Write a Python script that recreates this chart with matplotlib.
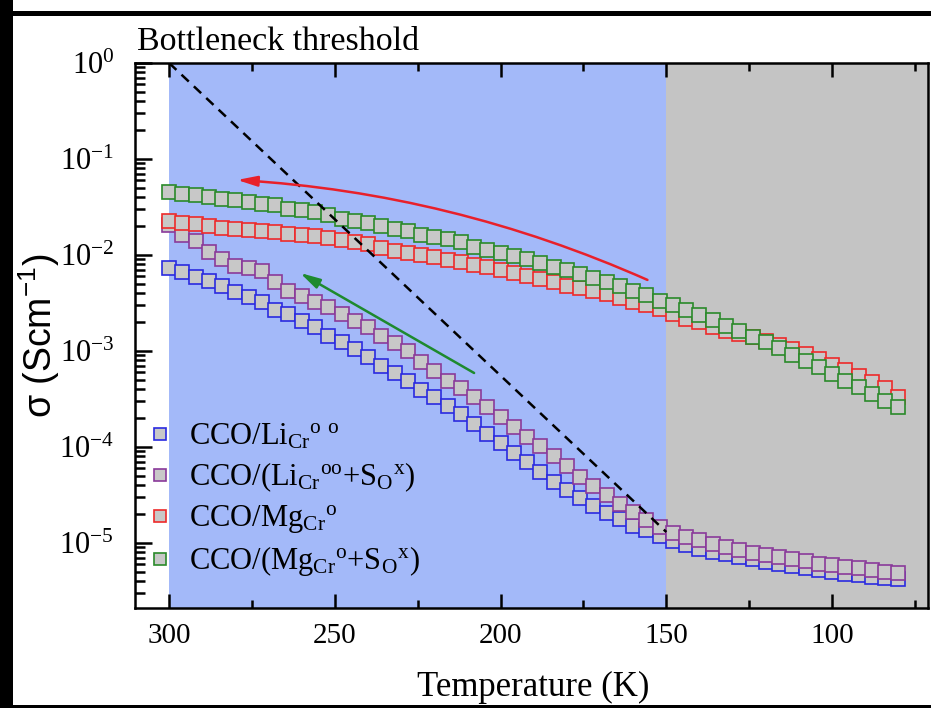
import numpy as np
import matplotlib
matplotlib.use('Agg')
import matplotlib.pyplot as plt
from matplotlib.patches import Rectangle
from matplotlib.ticker import MultipleLocator, LogLocator, NullFormatter

plt.rcParams['font.family'] = 'Liberation Serif'
plt.rcParams['mathtext.default'] = 'regular'

# temperature grid of the measurements (K), 300 -> 80 in 4 K steps
T = np.arange(300, 79, -4)

# log10(sigma / S cm^-1), same order as T
log_li = [-2.133, -2.178, -2.230, -2.272, -2.328, -2.387, -2.439, -2.492, -2.571, -2.613,
          -2.690, -2.753, -2.839, -2.909, -2.978, -3.066, -3.152, -3.233, -3.309, -3.406,
          -3.483, -3.57, -3.66, -3.76, -3.86, -3.96, -4.06, -4.16, -4.26, -4.36,
          -4.45, -4.53, -4.61, -4.69, -4.75, -4.82, -4.87, -4.93, -4.98, -5.02,
          -5.06, -5.09, -5.12, -5.145, -5.17, -5.195, -5.22, -5.24, -5.26, -5.28,
          -5.30, -5.32, -5.335, -5.35, -5.365, -5.38]
log_li_s = [-1.69, -1.795, -1.855, -1.970, -2.039, -2.119, -2.133, -2.168, -2.283, -2.370,
            -2.422, -2.492, -2.544, -2.613, -2.690, -2.753, -2.839, -2.920, -2.996, -3.118,
            -3.205, -3.309, -3.386, -3.483, -3.585, -3.687, -3.789, -3.891, -3.993, -4.095,
            -4.196, -4.311, -4.405, -4.499, -4.593, -4.676, -4.760, -4.833, -4.896, -4.937,
            -4.969, -5.010, -5.042, -5.073, -5.104, -5.125, -5.146, -5.167, -5.188, -5.219,
            -5.230, -5.251, -5.261, -5.282, -5.303, -5.313]
log_mg = [-1.646, -1.667, -1.681, -1.701, -1.715, -1.726, -1.736, -1.751, -1.761, -1.778,
          -1.795, -1.806, -1.820, -1.841, -1.860, -1.889, -1.930, -1.955, -1.980, -2.005,
          -2.025, -2.050, -2.075, -2.105, -2.130, -2.161, -2.189, -2.220, -2.247, -2.283,
          -2.318, -2.346, -2.377, -2.405, -2.443, -2.486, -2.526, -2.565, -2.616, -2.665,
          -2.700, -2.745, -2.787, -2.822, -2.850, -2.891, -2.937, -2.978, -3.030, -3.082,
          -3.142, -3.197, -3.257, -3.319, -3.385, -3.476]
log_mg_s = [-1.343, -1.360, -1.378, -1.395, -1.412, -1.430, -1.447, -1.464, -1.482, -1.517,
            -1.534, -1.552, -1.587, -1.621, -1.646, -1.670, -1.700, -1.725, -1.752, -1.787,
            -1.813, -1.835, -1.868, -1.912, -1.944, -1.980, -2.015, -2.046, -2.085, -2.126,
            -2.161, -2.203, -2.241, -2.283, -2.320, -2.370, -2.415, -2.475, -2.516, -2.568,
            -2.620, -2.672, -2.735, -2.787, -2.850, -2.909, -2.968, -3.038, -3.100, -3.170,
            -3.236, -3.309, -3.379, -3.448, -3.518, -3.580]

labels = [r'CCO/Li$_{Cr}{}^{o\ o}$',
          r'CCO/(Li$_{Cr}{}^{oo}$+S$_{O}{}^{x}$)',
          r'CCO/Mg$_{Cr}{}^{o}$',
          r'CCO/(Mg$_{Cr}{}^{o}$+S$_{O}{}^{x}$)']
colors = ['#2a2ae0', '#8a3a9a', '#ee2a2a', '#2a8a2a']
series = [log_li, log_li_s, log_mg, log_mg_s]

# bottleneck guide line and arrows
guide_T = [300, 150]
guide_sigma = [1.0, 1.3e-5]
red_arrow = ((155.7, 5.5e-3), (279.5, 0.0605))
green_arrow = ((208, 5.9e-4), (260.5, 6.5e-3))

fig = plt.figure(figsize=(9.31, 7.08), dpi=100)
ax = fig.add_axes([0.145, 0.1412, 0.852, 0.7698])

ax.axvspan(300, 150, color='#a3b9f9', lw=0, zorder=0)
ax.axvspan(150, 60, color='#c4c4c4', lw=0, zorder=0)

for ys, c, lab in zip(series, colors, labels):
    assert len(ys) == len(T)
    ax.plot(T, 10 ** np.array(ys), ls='none', marker='s', ms=9.4, mfc='#c8c8c8',
            mec=c, mew=1.2, label=lab, zorder=3)

ax.plot(guide_T, guide_sigma, color='k', ls='--', lw=1.8, dashes=(4, 2.8), zorder=4)

for (tail, head), c in zip([red_arrow, green_arrow], ['#e8202a', '#1e8a2e']):
    rad = 0.09 if c == '#e8202a' else 0.0
    ax.annotate('', xy=head, xytext=tail,
                arrowprops=dict(arrowstyle='-|>,head_length=0.85,head_width=0.22',
                                mutation_scale=14, color=c, lw=1.8,
                                connectionstyle='arc3,rad=%g' % rad,
                                shrinkA=0, shrinkB=0), zorder=5)

ax.set_yscale('log')
ax.set_xlim(310.3, 71)
ax.set_ylim(2.1e-6, 1)

ax.xaxis.set_major_locator(MultipleLocator(50))
ax.xaxis.set_minor_locator(MultipleLocator(25))
ax.yaxis.set_major_locator(LogLocator(base=10, numticks=20))
ax.yaxis.set_minor_locator(LogLocator(base=10, subs=np.arange(2, 10), numticks=20))
ax.yaxis.set_minor_formatter(NullFormatter())

ax.tick_params(axis='x', which='both', direction='in', top=True, bottom=True,
               labelsize=21, pad=11, width=1.8)
ax.tick_params(axis='x', which='major', length=10)
ax.tick_params(axis='x', which='minor', length=6)
ax.tick_params(axis='y', which='both', direction='in', left=True, right=False,
               labelsize=22, pad=15, width=1.8)
ax.tick_params(axis='y', which='major', length=12)
ax.tick_params(axis='y', which='minor', length=7)
for s in ax.spines.values():
    s.set_linewidth(1.8)

ax.set_xlabel('Temperature (K)', fontsize=25)
ax.xaxis.set_label_coords(0.502, -0.116)
ax.set_ylabel(r'σ (Scm$^{-1}$)', fontsize=27, family='Liberation Sans')
ax.yaxis.set_label_coords(-0.092, 0.5)

ax.legend(loc='center left', bbox_to_anchor=(0.0126, 0.198), frameon=False,
          fontsize=22, numpoints=1, markerscale=0.9, handlelength=0.95,
          handletextpad=0.5, borderpad=0, borderaxespad=0, labelspacing=0.3)

fig.text(137 / 931, 1 - 50 / 708, 'Bottleneck threshold', fontsize=24.5, va='baseline')

# black frame around the figure
fig.add_artist(Rectangle((0, 0), 13 / 931, 1, transform=fig.transFigure,
                         color='k', lw=0))
fig.add_artist(Rectangle((0, 1 - 16 / 708), 1, 5 / 708, transform=fig.transFigure,
                         color='k', lw=0))
fig.add_artist(Rectangle((0, 0), 1, 3 / 708, transform=fig.transFigure,
                         color='k', lw=0))

fig.savefig('out.png', dpi=100)
